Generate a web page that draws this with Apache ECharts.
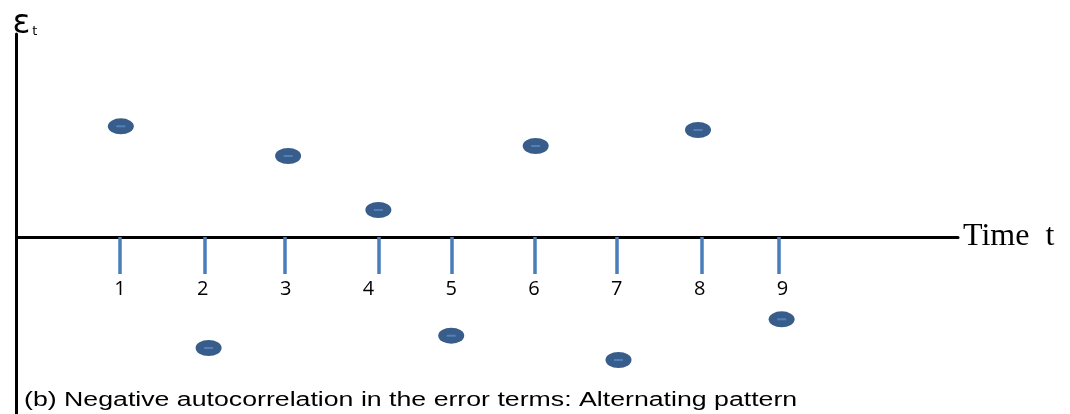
<!DOCTYPE html>
<html>
<head>
<meta charset="utf-8">
<script src="https://cdn.jsdelivr.net/npm/echarts@6/dist/echarts.min.js"></script>
<style>html,body{margin:0;padding:0;background:#fff}#c{width:1070px;height:414px}</style>
</head>
<body>
<div id="c"></div>
<script>
// Data
const timeLabels = [1, 2, 3, 4, 5, 6, 7, 8, 9];
const tickPositions = [1.0, 2.02, 2.99, 4.12, 5.01, 6.01, 7.0, 8.03, 8.95];
const pointT = [1.01, 2.07, 3.03, 4.12, 5.0, 6.02, 7.02, 7.98, 8.99];
const errorValues = [11.07, -11.1, 8.1, 2.7, -9.87, 9.1, -12.3, 10.7, -8.23];
const captionText = '(b) Negative autocorrelation in the error terms: Alternating pattern';
const xName = 'Time  t';

const Y_MIN = -17.7, Y_MAX = 20.3, GRID_TOP = 34, GRID_H = 380;
const zeroOffset = -GRID_H * (0 - Y_MIN) / (Y_MAX - Y_MIN);

const pts = pointT.map((t, i) => [t, errorValues[i]]);

const chart = echarts.init(document.getElementById('c'), null, {renderer: 'canvas'});
chart.setOption({
  animation: false,
  backgroundColor: '#ffffff',
  graphic: [{
    type: 'text', left: 24, top: 390, scaleX: 1.335, originX: 0,
    style: {text: captionText, font: '20px "Liberation Sans"', fill: '#000'}
  }],
  grid: {left: 16.5, right: 112, top: GRID_TOP, height: GRID_H, outerBoundsMode: 'none'},
  xAxis: {
    type: 'value', min: -0.25, max: 11.12, interval: 0.25,
    position: 'bottom', offset: zeroOffset,
    name: xName, nameLocation: 'end', nameGap: 5,
    nameTextStyle: {fontFamily: 'Liberation Serif', fontSize: 32, color: '#000', verticalAlign: 'middle'},
    axisLine: {show: true, onZero: false, lineStyle: {color: '#000', width: 3}},
    axisTick: {show: true, customValues: tickPositions, length: 37, lineStyle: {color: '#4a7ebb', width: 3.5}},
    axisLabel: {
      show: true, margin: 42, fontFamily: 'Open Sans', fontSize: 20, color: '#000',
      showMinLabel: true, showMaxLabel: true, hideOverlap: false,
      formatter: v => (timeLabels.indexOf(Math.round(v * 100) / 100) >= 0 ? String(Math.round(v)) : '')
    },
    splitLine: {show: false}
  },
  yAxis: {
    type: 'value', min: Y_MIN, max: Y_MAX,
    name: '{e|ε}{t|t}', nameLocation: 'end', nameGap: -7,
    nameTextStyle: {align: 'left', padding: [0, 0, 0, -4],
      rich: {e: {fontFamily: 'DejaVu Sans', fontSize: 33, color: '#000'},
             t: {fontFamily: 'DejaVu Sans', fontSize: 13, color: '#000', verticalAlign: 'bottom', padding: [0,0,3,2]}}},
    axisLine: {show: true, onZero: false, lineStyle: {color: '#000', width: 3}},
    axisTick: {show: false}, axisLabel: {show: false}, splitLine: {show: false}
  },
  series: [
    {type: 'scatter', data: pts, symbol: 'circle', symbolSize: [26, 16],
     itemStyle: {color: '#385d8a', opacity: 1}, z: 3},
    {type: 'scatter', data: pts, symbol: 'rect', symbolSize: [9, 2],
     itemStyle: {color: '#4f81bd', opacity: 1}, z: 4, silent: true}
  ]
});
</script>
</body>
</html>
